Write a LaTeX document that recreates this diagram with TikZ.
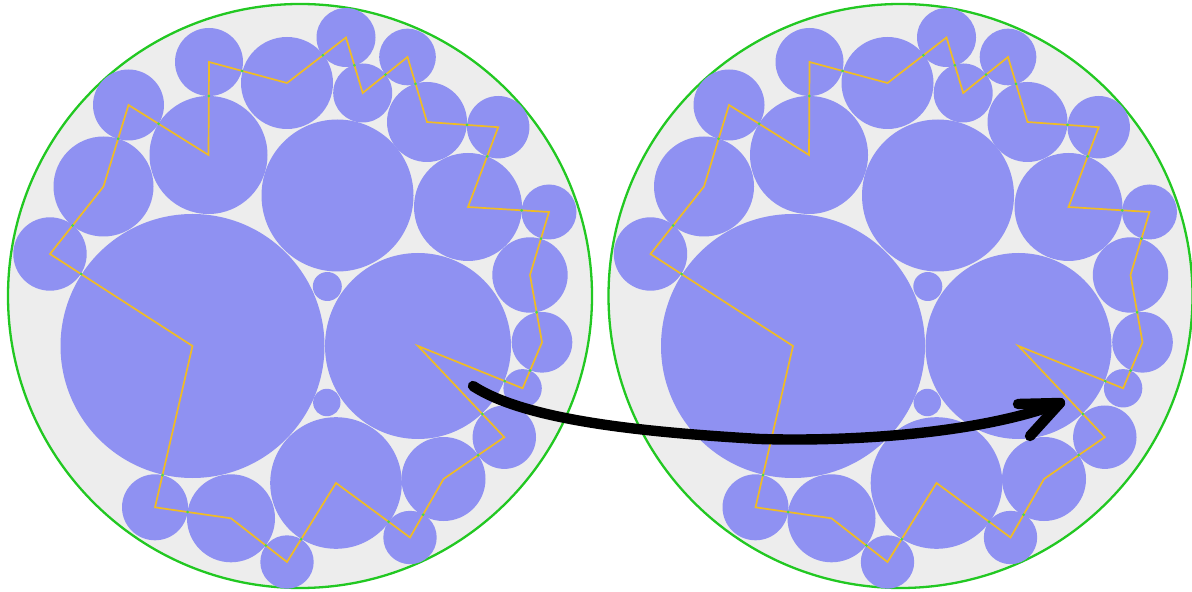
\documentclass[tikz,border=0pt]{standalone}
\usetikzlibrary{calc}
\definecolor{diskblue}{RGB}{143,145,242}
\definecolor{voidgray}{RGB}{237,237,237}
\definecolor{rimgreen}{RGB}{34,200,34}
\definecolor{routeyellow}{RGB}{240,188,36}
\definecolor{dotgreen}{RGB}{70,220,70}
\tikzset{
  disk/.style={circle, fill=diskblue, draw=none, inner sep=0pt, outer sep=0pt, minimum size=#1 pt},
  rim/.style={circle, fill=voidgray, draw=rimgreen, line width=1.15pt, inner sep=0pt, outer sep=0pt, minimum size=#1 pt},
  route/.style={draw=routeyellow, line width=0.85pt, line join=miter},
  gdot/.style={circle, fill=dotgreen, draw=none, inner sep=0pt, minimum size=1.5pt},
  bigarrow/.style={line width=5.2pt, line cap=round, line join=round, draw=black},
}
\newcommand\packingpanel{%
  \node[rim=292] (rim) at (300,296) {};
  \node[disk=132]  (c1)  at (192.5,346) {};
  \node[disk=59]   (c2)  at (208.5,155) {};
  \node[disk=34]   (c3)  at (209,62) {};
  \node[disk=46]   (c4)  at (287,83) {};
  \node[disk=35.5] (c5)  at (128.5,105) {};
  \node[disk=50]   (c6)  at (103.5,186.5) {};
  \node[disk=36.7] (c7)  at (50,254) {};
  \node[disk=29.5] (c8)  at (346,37.5) {};
  \node[disk=29.5] (c9)  at (362.7,93) {};
  \node[disk=28.3] (c10) at (407.5,57) {};
  \node[disk=40]   (c11) at (427,122) {};
  \node[disk=31.2] (c12) at (498.2,127.2) {};
  \node[disk=54]   (c13) at (468,207) {};
  \node[disk=27.5] (c14) at (549,212) {};
  \node[disk=37.7] (c15) at (530,275) {};
  \node[disk=93]   (c16) at (418,346) {};
  \node[disk=76]   (c17) at (337.5,195.5) {};
  \node[disk=14.5] (c18) at (327.3,286.5) {};
  \node[disk=13.7] (c19) at (326.8,402.5) {};
  \node[disk=65.8] (c20) at (336,483) {};
  \node[disk=26.7] (c21) at (410,537.5) {};
  \node[disk=42]   (c22) at (443.5,479) {};
  \node[disk=31.7] (c23) at (504.3,437.2) {};
  \node[disk=19.2] (c24) at (522.6,388.3) {};
  \node[disk=30.3] (c25) at (542,342.3) {};
  \node[disk=26.7] (c26) at (287,562) {};
  \node[disk=44]   (c27) at (231,518.3) {};
  \node[disk=33]   (c28) at (155,507.3) {};
  \draw[route] (c16.center) -- (c24.center) -- (c25.center) -- (c15.center) -- (c14.center)
     -- (c13.center) -- (c12.center) -- (c11.center) -- (c10.center) -- (c9.center)
     -- (c8.center) -- (c4.center) -- (c3.center) -- (c2.center) -- (c5.center)
     -- (c6.center) -- (c7.center) -- (c1.center) -- (c28.center) -- (c27.center)
     -- (c26.center) -- (c20.center) -- (c21.center) -- (c22.center) -- (c23.center) -- cycle;
  \foreach \a/\b/\f in {16/24/0.829, 24/25/0.388, 25/15/0.446, 15/14/0.578, 14/13/0.337,
      13/12/0.634, 12/11/0.438, 11/10/0.586, 10/9/0.490, 9/8/0.5, 8/4/0.391, 4/3/0.575,
      3/2/0.366, 2/5/0.624, 5/6/0.415, 6/7/0.577, 7/1/0.218, 1/28/0.8, 28/27/0.429,
      27/26/0.622, 26/20/0.289, 20/21/0.711, 21/22/0.389, 22/23/0.570, 23/16/0.254}
    {\node[gdot] at ($(c\a.center)!\f!(c\b.center)$) {};}
}
\begin{document}
\begin{tikzpicture}[x=0.5pt, y=-0.5pt]
  \useasboundingbox (0,0) rectangle (1192,592);
  \begin{scope}[name prefix=L-]
    \packingpanel
  \end{scope}
  \begin{scope}[xshift=300.25pt, name prefix=R-]
    \packingpanel
  \end{scope}
  \coordinate (arrStart) at (473,386);
  \coordinate (arrMid) at (760,439);
  \coordinate (arrTip) at (1060,403);
  \coordinate (barbA) at (1018,404);
  \coordinate (barbB) at (1030,436);
  \draw[bigarrow] (arrStart) .. controls (525,420) and (640,432) .. (arrMid)
      .. controls (860,442) and (985,432) .. (arrTip);
  \draw[bigarrow] (barbA) -- (arrTip) -- (barbB);
\end{tikzpicture}
\end{document}
